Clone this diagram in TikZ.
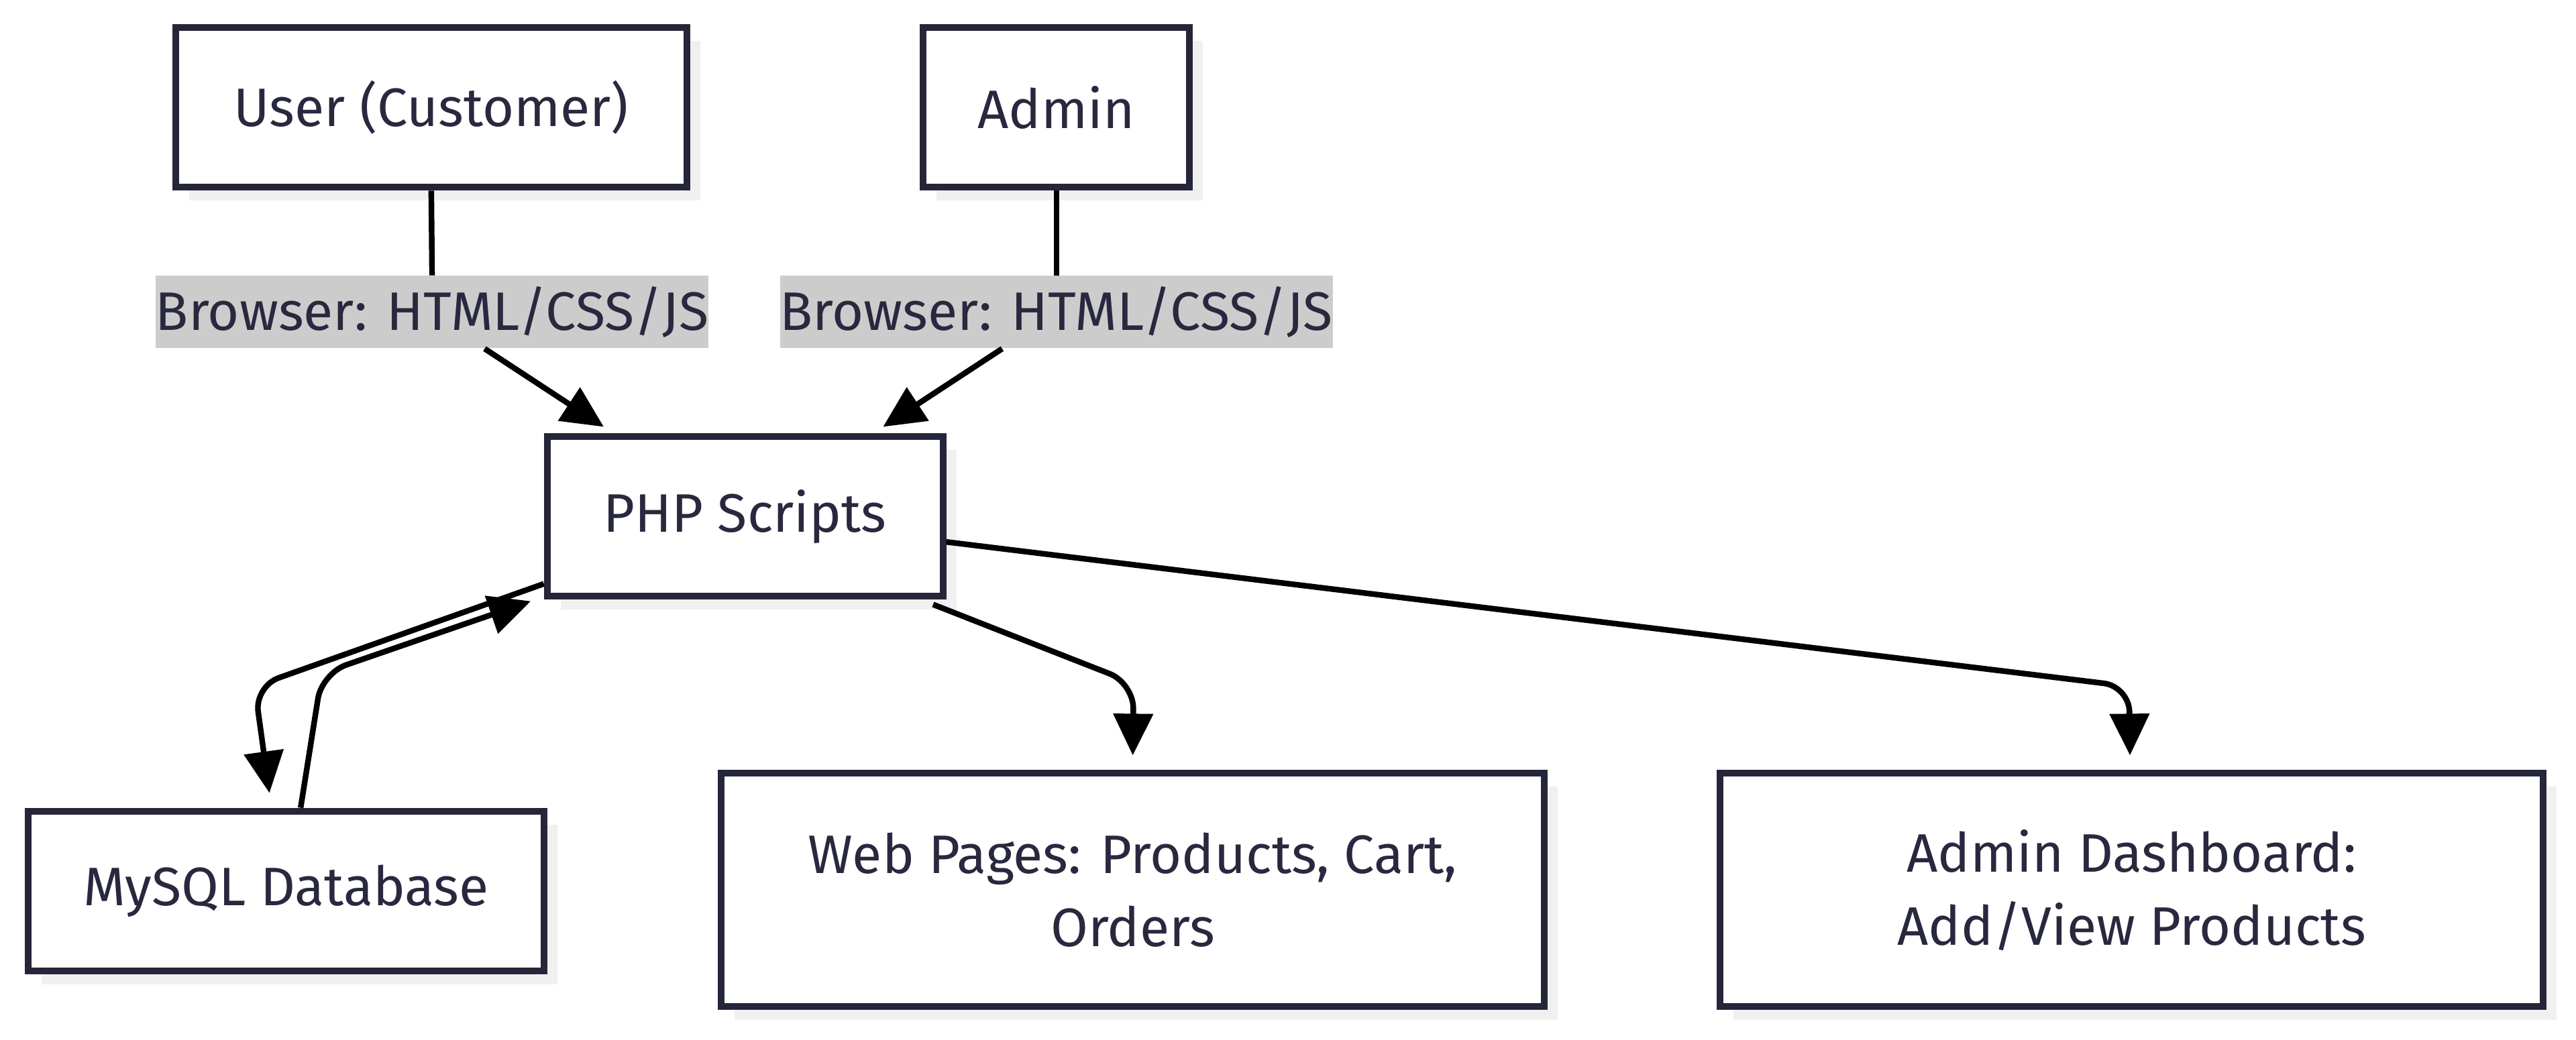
\documentclass[tikz,border=0pt]{standalone}
\usepackage{fontspec}
\setmainfont{Fira Sans}
\usepackage{tikz}
\usetikzlibrary{arrows.meta}
\usetikzlibrary{shadows}
\usetikzlibrary{calc}

\definecolor{boxline}{RGB}{38,38,58}
\definecolor{boxtext}{RGB}{40,40,62}
\definecolor{edgebg}{RGB}{204,204,204}

\begin{document}
\begin{tikzpicture}[x=0.0244898cm, y=-0.0244898cm,
    box/.style={draw=boxline, line width=2.8pt, fill=white, text=boxtext,
        align=center, inner sep=0pt,
        font=\fontsize{23}{31}\selectfont,
        drop shadow={shadow xshift=0.2cm, shadow yshift=-0.2cm, fill=black!6, opacity=1}},
    lab/.style={fill=edgebg, text=boxtext, inner sep=0pt,
        minimum width=8.23cm, minimum height=1.08cm,
        font=\fontsize{23}{26}\selectfont},
    link/.style={line width=2.4pt, rounded corners=0.38cm},
    arr/.style={link, -{Triangle[length=0.62cm, width=0.58cm]}}]

    \useasboundingbox (0,0) rectangle (1568,633.3);

    % the two actors
    \node[box, minimum width=7.62cm, minimum height=2.38cm] (user)  at (262.5,65.5) {User (Customer)};
    \node[box, minimum width=3.97cm, minimum height=2.38cm] (admin) at (643,65.5)   {Admin};

    % server side
    \node[box, minimum width=5.90cm, minimum height=2.38cm] (php)   at (453.5,314.5) {PHP Scripts};
    \node[box, minimum width=7.69cm, minimum height=2.38cm] (mysql) at (174,542.5)   {MySQL Database};
    \node[box, minimum width=12.27cm, minimum height=3.48cm] (web)  at (689.5,542)   {Web Pages: Products, Cart,\\Orders};
    \node[box, minimum width=12.27cm, minimum height=3.48cm] (dash) at (1297.5,542)  {Admin Dashboard:\\ Add/View Products};

    % edge labels
    \node[lab] (lab1) at (263,190) {Browser: HTML/CSS/JS};
    \node[lab] (lab2) at (643,190) {Browser: HTML/CSS/JS};

    % browser to php
    \draw[link] (user.south) -- (lab1.north);
    \draw[arr] ($(lab1.south)+(32,0)$) -- ($(php.north)+(-86,-4)$);
    \draw[link] (admin.south) -- (lab2.north);
    \draw[arr] ($(lab2.south)+(-33,0)$) -- ($(php.north)+(84,-4)$);

    % php and database
    \draw[arr] ($(php.west)+(0,41)$) -- (155,418) -- ($(mysql.north)+(-10,-9)$);
    \draw[arr] ($(mysql.north)+(9,0)$) -- (196,410) -- ($(php.south west)+(-8,1)$);

    % php to the pages
    \draw[arr] ($(php.south east)+(-8,3)$) -- (690,416) -- ($(web.north)+(0,-9)$);
    \draw[arr] ($(php.east)+(0,15.5)$) -- (1296,418) -- ($(dash.north)+(-1,-9)$);
\end{tikzpicture}
\end{document}
